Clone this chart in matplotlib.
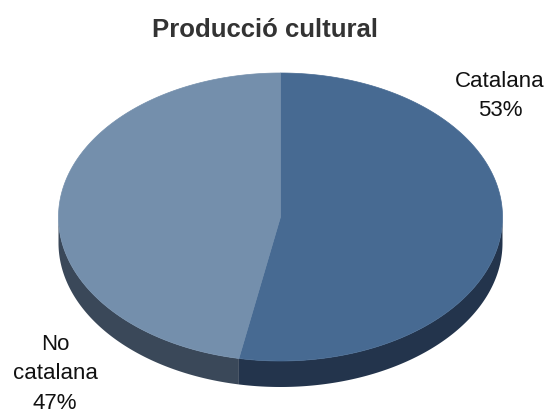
import numpy as np
import matplotlib
matplotlib.use("Agg")
import matplotlib.pyplot as plt
from matplotlib.patches import Polygon

plt.rcParams['font.family'] = ['Liberation Sans', 'DejaVu Sans']

title = "Producció cultural"
categories = ["Catalana", "No catalana"]
shares = [53, 47]
top_colors = ["#476a92", "#748fac"]
side_colors = ["#23344c", "#3a4859"]

W, H = 557, 414
fig = plt.figure(figsize=(W / 100, H / 100), dpi=100)
ax = fig.add_axes([0, 0, 1, 1])
ax.set_xlim(0, W)
ax.set_ylim(H, 0)
ax.axis("off")

cx, cy, a, b, depth = 280.5, 218.0, 222.0, 144.0, 26.0


def rim(t0, t1, n=200):
    t = np.radians(np.linspace(t0, t1, n))
    return cx + a * np.cos(t), cy - b * np.sin(t)


# slice angles, clockwise from 12 o'clock
total = sum(shares)
starts, ends = [], []
ang = 90.0
for s in shares:
    starts.append(ang)
    ang -= 360.0 * s / total
    ends.append(ang)

# side walls (front half only: angles between -180 and 0)
for st, en, col in zip(starts, ends, side_colors):
    for shift in (0.0, -360.0, 360.0):
        l2, h2 = max(min(st, en) + shift, -180.0), min(max(st, en) + shift, 0.0)
        if h2 > l2:
            x, y = rim(h2, l2)
            pts = np.column_stack([np.concatenate([x, x[::-1]]),
                                   np.concatenate([y, y[::-1] + depth])])
            ax.add_patch(Polygon(pts, closed=True, fc=col, ec="none", zorder=1))

# top faces
for st, en, col in zip(starts, ends, top_colors):
    x, y = rim(st, en, 400)
    pts = np.column_stack([np.r_[cx, x], np.r_[cy, y]])
    ax.add_patch(Polygon(pts, closed=True, fc=col, ec=col, lw=0.5, zorder=2))

ax.text(265, 30, title, ha="center", va="center", fontsize=18.5,
        fontweight="bold", color="#333333")

ax.text(500, 96, f"{categories[0]}\n{shares[0]}%", ha="center", va="center",
        fontsize=16, color="#111111", linespacing=1.55)
ax.text(55, 374, "No\n" + categories[1].split(" ")[1] + f"\n{shares[1]}%",
        ha="center", va="center", fontsize=16, color="#111111", linespacing=1.55)

fig.savefig("out.png", dpi=100)
